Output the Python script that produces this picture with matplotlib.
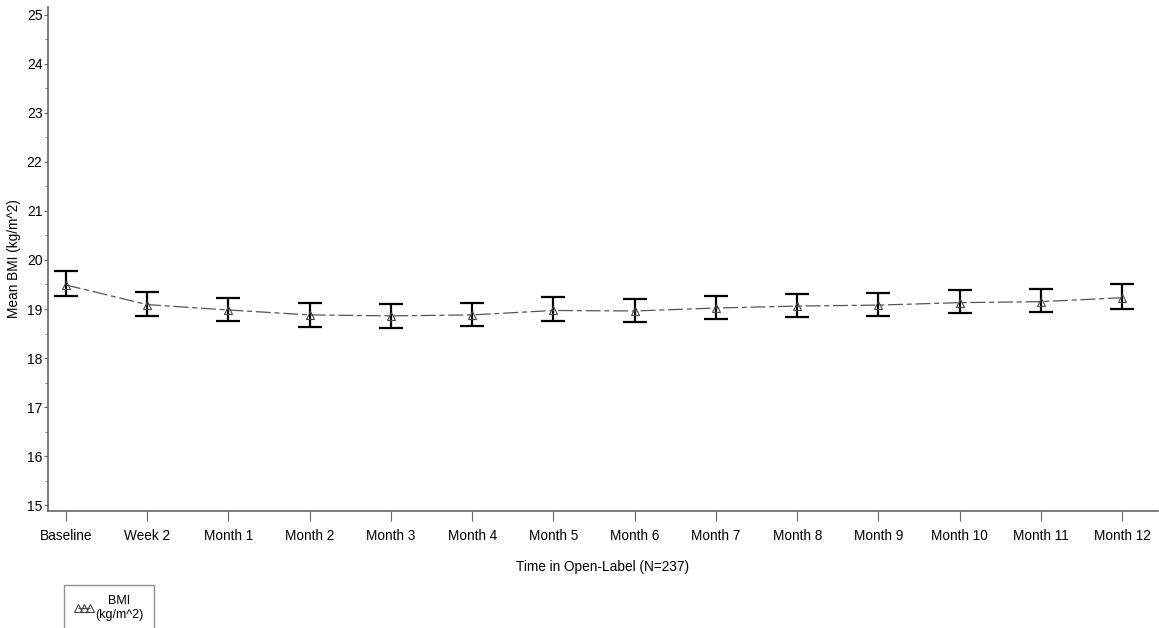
import matplotlib.pyplot as plt
from matplotlib.ticker import MultipleLocator

plt.rcParams['font.family'] = ['Liberation Sans', 'DejaVu Sans']

visits = ['Baseline', 'Week 2', 'Month 1', 'Month 2', 'Month 3', 'Month 4', 'Month 5',
          'Month 6', 'Month 7', 'Month 8', 'Month 9', 'Month 10', 'Month 11', 'Month 12']
bmi_mean = [19.49, 19.09, 18.98, 18.88, 18.86, 18.88, 18.97, 18.96, 19.02, 19.06, 19.08, 19.13, 19.15, 19.23]
bmi_upper = [19.77, 19.35, 19.23, 19.13, 19.11, 19.12, 19.24, 19.21, 19.27, 19.31, 19.33, 19.39, 19.41, 19.50]
bmi_lower = [19.26, 18.86, 18.76, 18.64, 18.62, 18.66, 18.75, 18.74, 18.79, 18.83, 18.86, 18.91, 18.93, 19.01]

x = list(range(len(visits)))
yerr = [[m - lo for m, lo in zip(bmi_mean, bmi_lower)],
        [hi - m for m, hi in zip(bmi_mean, bmi_upper)]]

fig = plt.figure(figsize=(11.59, 6.28), dpi=100)
ax = fig.add_axes([48 / 1159, 1 - 511 / 628, 1110 / 1159, 504 / 628])

ax.errorbar(x, bmi_mean, yerr=yerr, fmt='none', ecolor='black', elinewidth=1.6,
            capsize=8.3, capthick=1.6, zorder=2)
line, = ax.plot(x, bmi_mean, color='#555555', lw=0.9, dashes=(12, 3, 4, 3),
                marker='^', markersize=6, markerfacecolor='none',
                markeredgecolor='#444444', markeredgewidth=0.8, zorder=3,
                label='BMI\n(kg/m^2)')

ax.set_xlim(-0.22, 13.44)
ax.set_ylim(14.88, 25.16)
ax.set_xticks(x)
ax.set_xticklabels(visits, fontsize=9.8)
ax.yaxis.set_major_locator(MultipleLocator(1))
ax.yaxis.set_minor_locator(MultipleLocator(0.5))
ax.tick_params(axis='y', which='major', length=3, labelsize=10, color='#666666', pad=1)
ax.tick_params(axis='y', which='minor', length=2, color='#666666')
ax.tick_params(axis='x', length=7, color='#666666', pad=6)

for side in ['top', 'right']:
    ax.spines[side].set_visible(False)
for side in ['left', 'bottom']:
    ax.spines[side].set_color('#666666')
    ax.spines[side].set_linewidth(1.2)

ax.set_xlabel('Time in Open-Label (N=237)', fontsize=9.8, labelpad=12)
ax.set_ylabel('Mean BMI (kg/m^2)', fontsize=9.8, labelpad=4)

leg = fig.legend(handles=[line], loc='upper left', bbox_to_anchor=(64 / 1159, 1 - 585 / 628),
                 numpoints=3, handlelength=1.6, handletextpad=0.1, fontsize=9,
                 fancybox=False, edgecolor='#777777', borderpad=0.8, borderaxespad=0,
                 markerscale=1.0)
leg.get_frame().set_linewidth(1.0)
for t in leg.get_texts():
    t.set_multialignment('center')

fig.savefig('out.png', dpi=100)
